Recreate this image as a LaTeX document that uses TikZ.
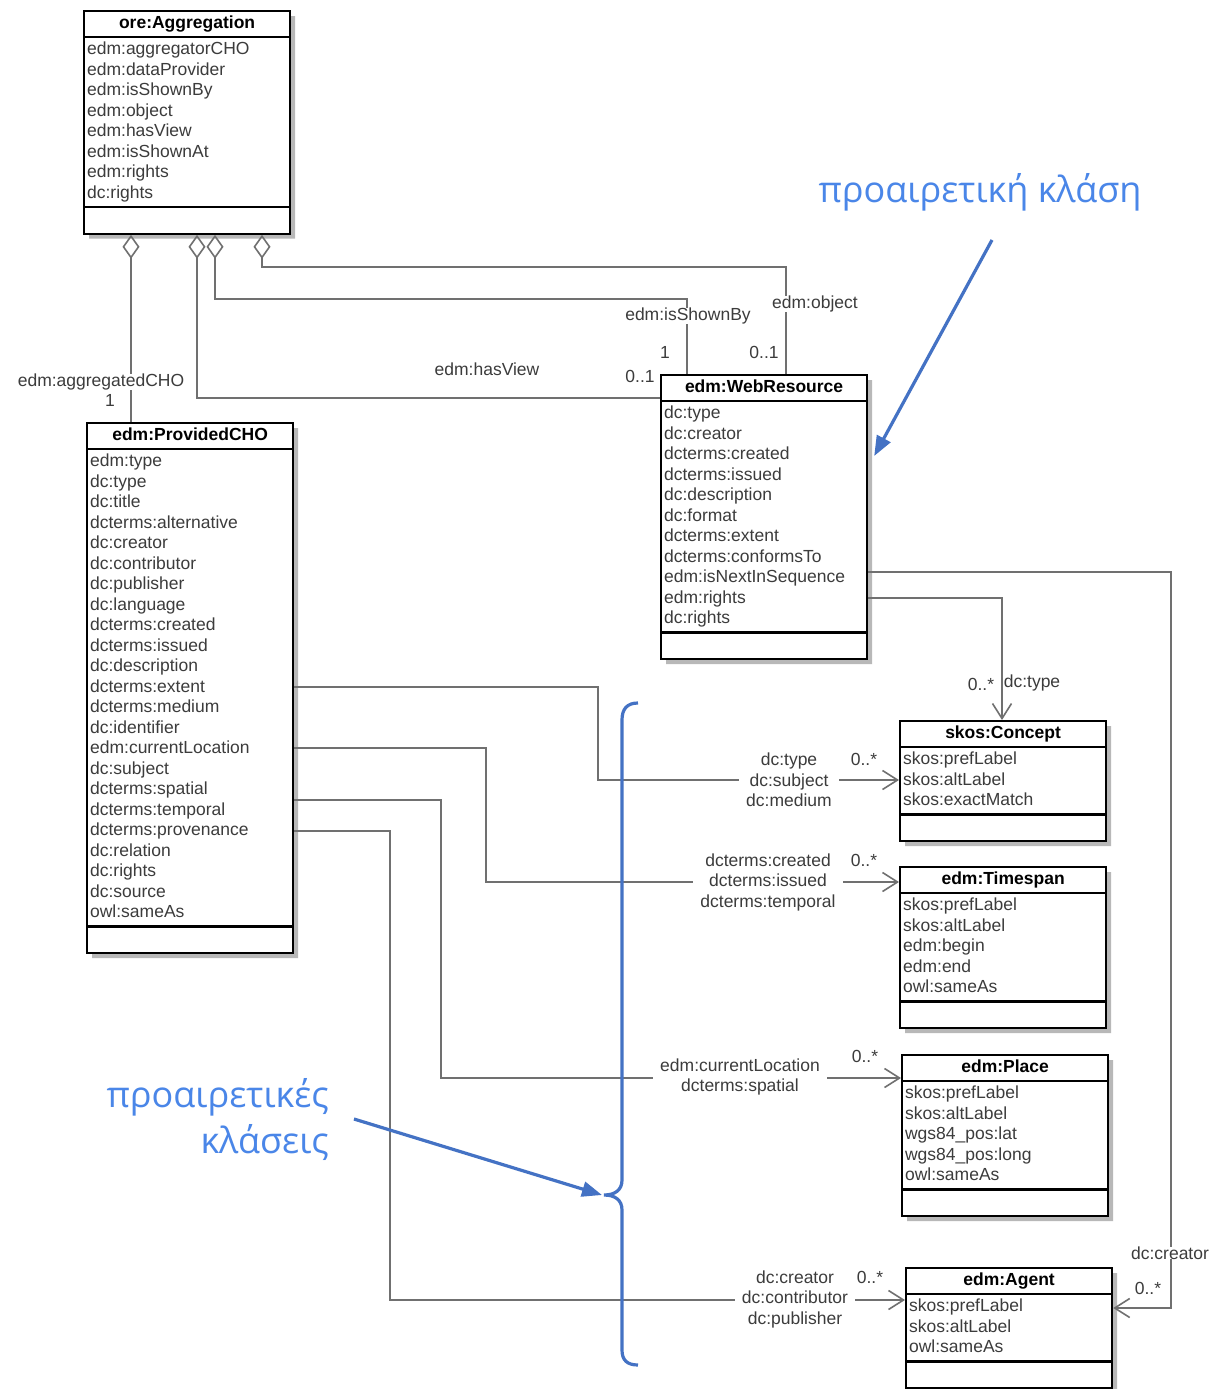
\documentclass[tikz,border=0pt]{standalone}
\usepackage{fontspec}
\setmainfont{Liberation Sans}
\newfontfamily\greekfont{Open Sans}
\usetikzlibrary{shapes.multipart,shadows,arrows.meta,calc}

\definecolor{lineColor}{RGB}{112,112,112}
\definecolor{attrColor}{RGB}{60,60,60}
\definecolor{noteColor}{RGB}{74,134,232}
\definecolor{markColor}{RGB}{68,114,196}

\newcommand{\umltitle}[1]{\strut\textcolor{black}{\textbf{#1}}}
\newcommand{\umlrows}[1]{\strut#1\strut}

\tikzset{
  umlclass/.style={rectangle split, rectangle split parts=3, draw=black, line width=2.2pt,
    fill=white, minimum width=206pt, rectangle split part align={center,left,left},
    align=left, inner xsep=3pt, inner ysep=1.75pt, anchor=north west,
    rectangle split empty part height=21pt, rectangle split empty part depth=0pt,
    font=\fontsize{17.5}{20.5}\selectfont, text=attrColor,
    drop shadow={shadow xshift=5pt, shadow yshift=-5pt, fill=black!28, opacity=1}},
  assoc/.style={draw=lineColor, line width=1.8pt},
  aggr/.style={assoc, {Diamond[open,length=24pt,width=17pt,line width=1.6pt]}-},
  navig/.style={assoc, -{Straight Barb[length=15pt,width=19pt,line width=1.6pt]}},
  rolelabel/.style={font=\fontsize{17.5}{20.5}\selectfont, text=attrColor, align=center,
    fill=white, inner xsep=7pt, inner ysep=0pt},
  multlabel/.style={font=\fontsize{17.5}{20.5}\selectfont, text=attrColor, inner sep=0pt},
  greeknote/.style={font=\greekfont\fontsize{36}{46}\selectfont, text=noteColor, inner sep=0pt},
  notearrow/.style={draw=markColor, line width=3.2pt, -{Triangle[length=20pt,width=15pt]}},
  braceline/.style={draw=markColor, line width=3.2pt}
}

\begin{document}
\begin{tikzpicture}[x=1pt,y=-1pt]
\path[use as bounding box,fill=white] (0,0) rectangle (1209,1389);

% classes
\node[umlclass] (agg) at (83,10) {\umltitle{ore:Aggregation}\nodepart{second}\umlrows{edm:aggregatorCHO\\edm:dataProvider\\edm:isShownBy\\edm:object\\edm:hasView\\edm:isShownAt\\edm:rights\\dc:rights}\nodepart{third}};

\node[umlclass] (cho) at (86,422) {\umltitle{edm:ProvidedCHO}\nodepart{second}\umlrows{edm:type\\dc:type\\dc:title\\dcterms:alternative\\dc:creator\\dc:contributor\\dc:publisher\\dc:language\\dcterms:created\\dcterms:issued\\dc:description\\dcterms:extent\\dcterms:medium\\dc:identifier\\edm:currentLocation\\dc:subject\\dcterms:spatial\\dcterms:temporal\\dcterms:provenance\\dc:relation\\dc:rights\\dc:source\\owl:sameAs}\nodepart{third}};

\node[umlclass] (wr) at (660,374) {\umltitle{edm:WebResource}\nodepart{second}\umlrows{dc:type\\dc:creator\\dcterms:created\\dcterms:issued\\dc:description\\dc:format\\dcterms:extent\\dcterms:conformsTo\\edm:isNextInSequence\\edm:rights\\dc:rights}\nodepart{third}};

\node[umlclass] (concept) at (899,720) {\umltitle{skos:Concept}\nodepart{second}\umlrows{skos:prefLabel\\skos:altLabel\\skos:exactMatch}\nodepart{third}};

\node[umlclass] (timespan) at (899,866) {\umltitle{edm:Timespan}\nodepart{second}\umlrows{skos:prefLabel\\skos:altLabel\\edm:begin\\edm:end\\owl:sameAs}\nodepart{third}};

\node[umlclass] (place) at (901,1054) {\umltitle{edm:Place}\nodepart{second}\umlrows{skos:prefLabel\\skos:altLabel\\wgs84\_pos:lat\\wgs84\_pos:long\\owl:sameAs}\nodepart{third}};

\node[umlclass] (agent) at (905,1267) {\umltitle{edm:Agent}\nodepart{second}\umlrows{skos:prefLabel\\skos:altLabel\\owl:sameAs}\nodepart{third}};

% aggregation links
\draw[aggr] ($(agg.south west)+(48,0)$) -- ($(cho.north west)+(45,0)$);
\draw[aggr] ($(agg.south west)+(114,0)$) |- ($(wr.north west)+(0,24)$);
\draw[aggr] ($(agg.south west)+(132,0)$) -- ++(0,64) -| ($(wr.north west)+(27,0)$);
\draw[aggr] ($(agg.south west)+(179,0)$) -- ++(0,32) -| ($(wr.north west)+(126,0)$);

% web resource links
\draw[navig] ($(wr.north east)+(0,224)$) -| ($(concept.north west)+(103,0)$);
\draw[navig] ($(wr.north east)+(0,198)$) -- ++(303,0) |- ($(agent.north east)+(0,41)$);

% provided CHO links
\draw[navig] ($(cho.north east)+(0,265)$) -- ++(304,0) |- ($(concept.north west)+(0,60)$);
\draw[navig] ($(cho.north east)+(0,326)$) -- ++(192,0) |- ($(timespan.north west)+(0,16)$);
\draw[navig] ($(cho.north east)+(0,378)$) -- ++(147,0) |- ($(place.north west)+(0,24)$);
\draw[navig] ($(cho.north east)+(0,409)$) -- ++(96,0) |- ($(agent.north west)+(0,33)$);

% role names and multiplicities
\node[rolelabel] (aggcho role) at (101,382) {edm:aggregatedCHO};
\node[multlabel] (aggcho mult) at (110,400) {1};
\node[multlabel] (view role) at (487,369) {edm:hasView};
\node[multlabel] (view mult) at (640,376) {0..1};
\node[rolelabel] (shown role) at (688,316) {edm:isShownBy};
\node[multlabel] (shown mult) at (665,352) {1};
\node[rolelabel] (object role) at (815,304) {edm:object};
\node[multlabel] (object mult) at (764,352) {0..1};
\node[multlabel] (wrtype mult) at (981,684) {0..*};
\node[multlabel] (wrtype role) at (1032,683) {dc:type};
\node[rolelabel] (wrcreator role) at (1170,1253) {dc:creator};
\node[multlabel] (wrcreator mult) at (1148,1288) {0..*};
\node[rolelabel] (concept role) at (789,780) {dc:type\\dc:subject\\dc:medium};
\node[multlabel] (concept mult) at (864,759) {0..*};
\node[rolelabel] (time role) at (768,882) {dcterms:created\\dcterms:issued\\dcterms:temporal};
\node[multlabel] (time mult) at (864,860) {0..*};
\node[rolelabel] (place role) at (740,1077) {edm:currentLocation\\dcterms:spatial};
\node[multlabel] (place mult) at (865,1056) {0..*};
\node[rolelabel] (agent role) at (795,1299) {dc:creator\\dc:contributor\\dc:publisher};
\node[multlabel] (agent mult) at (870,1277) {0..*};

% notes
\node[greeknote] (note wr) at (980,192) {προαιρετική κλάση};
\node[greeknote, align=right, anchor=east] (note ctx) at (329,1119) {προαιρετικές\\κλάσεις};
\coordinate (note wr tail) at (992,240);
\coordinate (brace tip) at (604,1195);

\draw[braceline] (638,703) .. controls (627,703) and (622,709) .. (622,720) -- (622,1180)
  .. controls (622,1190) and (615,1195) .. (brace tip)
  .. controls (615,1195) and (622,1200) .. (622,1210) -- (622,1350)
  .. controls (622,1360) and (627,1365) .. (638,1365);
\draw[notearrow] (note wr tail) -- ($(wr.north east)+(6,82)$);
\draw[notearrow] ($(note ctx.east)+(25,0)$) -- ($(brace tip)+(-2,0)$);
\end{tikzpicture}
\end{document}
